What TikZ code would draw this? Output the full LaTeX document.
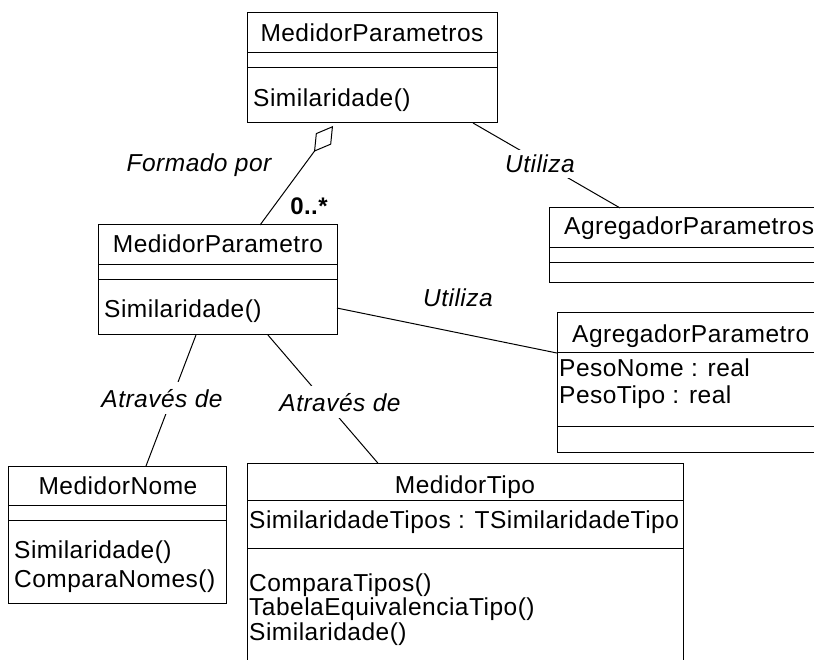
\documentclass[tikz,border=0pt]{standalone}
\usepackage{fontspec}
\setmainfont{Liberation Sans}[LetterSpace=2]
\usetikzlibrary{arrows.meta,calc}
\begin{document}
\begin{tikzpicture}[x=1pt,y=-1pt,
  classbox/.style={draw, line width=1pt, rectangle, anchor=north west, inner sep=0pt, outer sep=0pt},
  sepline/.style={line width=1pt},
  link/.style={line width=1pt},
  txt/.style={font=\fontsize{24.5}{29}\selectfont, inner sep=0pt, anchor=base west},
  ctxt/.style={txt, anchor=base},
  lbl/.style={font=\fontsize{24.5}{29}\selectfont\itshape, anchor=base, fill=white, inner sep=5pt},
  mult/.style={font=\fontsize{24}{29}\selectfont\bfseries, anchor=base, inner sep=0pt}]

\useasboundingbox (0,0) rectangle (814,660);
\clip (0,0) rectangle (814,660);

% class frames
\node[classbox, minimum width=250pt, minimum height=110pt] (mps) at (247,13) {};
\node[classbox, minimum width=239pt, minimum height=110pt] (mp)  at (98,225) {};
\node[classbox, minimum width=300pt, minimum height=75pt]  (aps) at (549,208) {};
\node[classbox, minimum width=300pt, minimum height=139pt] (ap)  at (557,313) {};
\node[classbox, minimum width=218pt, minimum height=137pt] (mn)  at (8,466) {};
\node[classbox, minimum width=436pt, minimum height=247pt] (mt)  at (247,463) {};

% compartment separators
\draw[sepline] (247,53) -- (497,53) (247,68) -- (497,68);
\draw[sepline] (98,265) -- (337,265) (98,280) -- (337,280);
\draw[sepline] (549,248) -- (849,248) (549,263) -- (849,263);
\draw[sepline] (557,352) -- (857,352) (557,426) -- (857,426);
\draw[sepline] (8,505) -- (226,505) (8,520) -- (226,520);
\draw[sepline] (247,500) -- (683,500) (247,548) -- (683,548);

% class contents
\node[ctxt] (mpsName) at (372,42) {MedidorParametros};
\node[txt]  (mpsOp1)  at (253,107) {Similaridade()};

\node[ctxt] (mpName) at (218,253) {MedidorParametro};
\node[txt]  (mpOp1)  at (104,318) {Similaridade()};

\node[txt] (apsName) at (564,235) {AgregadorParametros};

\node[txt] (apName)  at (572,342) {AgregadorParametro};
\node[txt] (apAttr1) at (559,376) {PesoNome : real};
\node[txt] (apAttr2) at (559,403) {PesoTipo : real};

\node[ctxt] (mnName) at (118,494) {MedidorNome};
\node[txt]  (mnOp1)  at (14,558) {Similaridade()};
\node[txt]  (mnOp2)  at (14,587) {ComparaNomes()};

\node[ctxt] (mtName)  at (465,493) {MedidorTipo};
\node[txt]  (mtAttr1) at (249,528) {SimilaridadeTipos : TSimilaridadeTipo};
\node[txt]  (mtOp1)   at (249,591) {ComparaTipos()};
\node[txt]  (mtOp2)   at (249,615) {TabelaEquivalenciaTipo()};
\node[txt]  (mtOp3)   at (249,640) {Similaridade()};

% associations
\draw[link, {Diamond[open, length=32pt, width=19pt]}-]
  ($(mps.south west)!0.344!(mps.south east)+(0,3)$) -- ($(mp.north west)!0.678!(mp.north east)$);
\draw[link] ($(mps.south west)!0.904!(mps.south east)$) -- ($(aps.north west)!0.237!(aps.north east)$);
\draw[link] ($(mp.north east)!0.755!(mp.south east)$) -- ($(ap.north west)!0.288!(ap.south west)$);
\draw[link] ($(mp.south west)!0.41!(mp.south east)$) -- ($(mn.north west)!0.633!(mn.north east)$);
\draw[link] ($(mp.south west)!0.711!(mp.south east)$) -- ($(mt.north west)!0.30!(mt.north east)$);

% association labels
\node[lbl] (lFormado) at (199,172) {Formado por};
\node[mult] (lMult) at (309,215) {0..*};
\node[lbl] (lUtiliza1) at (540,173) {Utiliza};
\node[lbl, fill=none] (lUtiliza2) at (458,307) {Utiliza};
\node[lbl, inner sep=7pt] (lAtraves1) at (162,407) {Através de};
\node[lbl, inner sep=7pt] (lAtraves2) at (340,411) {Através de};

\end{tikzpicture}
\end{document}
